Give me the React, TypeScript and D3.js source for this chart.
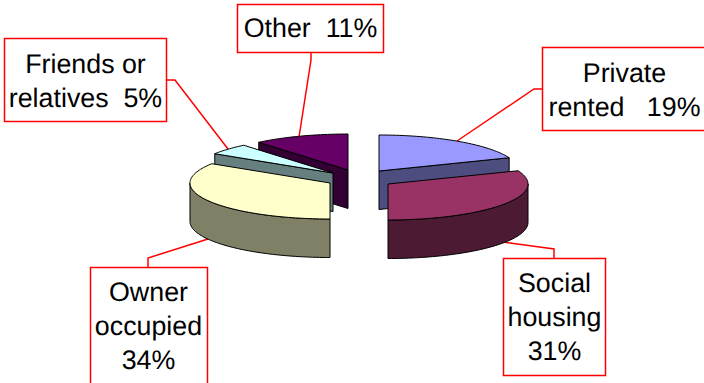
import React from "react";
import * as d3 from "d3";

// Housing tenure shares, clockwise from twelve o'clock.
const tenures = ["Private rented", "Social housing", "Owner occupied", "Friends or relatives", "Other"];
const shares = [19, 31, 34, 5, 11];

// Printed text of each callout, one entry per line.
const calloutLines = [
  ["Private", "rented   19%"],
  ["Social", "housing", "31%"],
  ["Owner", "occupied", "34%"],
  ["Friends or", "relatives  5%"],
  ["Other  11%"],
];

// Face colours per slice.
const topColors = ["#9999FF", "#993366", "#FFFFCC", "#CCFFFF", "#660066"];
const sideColors = ["#4D4D80", "#4D1A33", "#808066", "#668080", "#330033"];

// Pie projection: flattened ellipse plus extrusion depth.
const RX = 140;
const RY = 36;
const DEPTH = 38.5;

// Exploded slice centres on the page.
const centers: [number, number][] = [[379, 171], [388, 184], [330, 183], [333, 173], [348, 170]];

// Callout boxes [x, y, w, h], first baseline, text centre, leader path.
const boxes = [
  { r: [542.5, 47.5, 175, 83], base: 82, cx: 624.5, lead: [[542, 89], [534, 89], [457, 141]] },
  { r: [503.5, 258.5, 102, 117], base: 292, cx: 554.5, lead: [[554, 258], [554, 249], [503, 242]] },
  { r: [90.5, 267.5, 117, 130], base: 301, cx: 148.5, lead: [[148, 267], [148, 258], [208, 239]] },
  { r: [4.5, 38.5, 162, 83], base: 73, cx: 85.5, lead: [[166, 80], [175, 80], [228, 149]] },
  { r: [237.5, 4.5, 146, 48], base: 37, cx: 310.5, lead: [[311, 52], [311, 60], [299, 137]] },
];
const LINE_HEIGHT = 34;

// Paint order: rear slices first so the front ones overlap them.
const paintOrder = [4, 3, 0, 2, 1];

const arcs = d3.pie<number>().sort(null)(shares);

const line = d3.line();

function rimPoint(i: number, angle: number, dz = 0): [number, number] {
  const [cx, cy] = centers[i];
  return [cx + RX * Math.sin(angle), cy - RY * Math.cos(angle) + dz];
}

function rimAngles(start: number, end: number): number[] {
  const steps = Math.max(2, Math.ceil((end - start) * 40));
  return d3.range(steps + 1).map((k) => start + ((end - start) * k) / steps);
}

function topPath(i: number): string {
  const a = arcs[i];
  const pts = rimAngles(a.startAngle, a.endAngle).map((t) => rimPoint(i, t));
  return line([centers[i], ...pts, centers[i]])! + "Z";
}

// Outer wall, limited to the part of the rim that faces the viewer.
function wallPath(i: number): string | null {
  const a = arcs[i];
  const s = Math.max(a.startAngle, Math.PI / 2);
  const e = Math.min(a.endAngle, (3 * Math.PI) / 2);
  if (e <= s) return null;
  const upper = rimAngles(s, e).map((t) => rimPoint(i, t));
  const lower = rimAngles(s, e).reverse().map((t) => rimPoint(i, t, DEPTH));
  return line([...upper, ...lower])! + "Z";
}

// Flat cut face along one radius, extruded downward.
function cutPath(i: number, angle: number): string {
  const [cx, cy] = centers[i];
  const [x, y] = rimPoint(i, angle);
  return line([[cx, cy], [x, y], [x, y + DEPTH], [cx, cy + DEPTH]])! + "Z";
}

export default function App() {
  return (
    <svg
      width={704}
      height={383}
      viewBox="0 0 704 383"
      style={{ position: "absolute", left: 0, top: 0, background: "#fff" }}
      fontFamily="'Liberation Sans', Arial, sans-serif"
      textRendering="geometricPrecision"
    >
      {boxes.map((b, i) => (
        <g key={tenures[i]}>
          <path d={line(b.lead as [number, number][])!} fill="none" stroke="#FF0000" strokeWidth={1.5} />
          <rect x={b.r[0]} y={b.r[1]} width={b.r[2]} height={b.r[3]} fill="#fff" stroke="#FF0000" strokeWidth={1.5} />
          <text fontSize={26.8} textAnchor="middle" fill="#000" style={{ whiteSpace: "pre" }}>
            {calloutLines[i].map((t, k) => (
              <tspan key={k} x={b.cx} y={b.base + k * LINE_HEIGHT}>{t}</tspan>
            ))}
          </text>
        </g>
      ))}
      {paintOrder.map((i) => {
        const a = arcs[i];
        const wall = wallPath(i);
        const stroke = { stroke: "#000", strokeWidth: 1, strokeLinejoin: "round" as const };
        // Cut faces are visible when the radius points away from the viewer's side.
        const cuts: number[] = [];
        if (a.startAngle > Math.PI) cuts.push(a.startAngle);
        if (a.endAngle < Math.PI) cuts.push(a.endAngle);
        return (
          <g key={tenures[i]}>
            {cuts.map((c) => (
              <path key={c} d={cutPath(i, c)} fill={sideColors[i]} {...stroke} />
            ))}
            {wall && <path d={wall} fill={sideColors[i]} {...stroke} />}
            <path d={topPath(i)} fill={topColors[i]} {...stroke} />
          </g>
        );
      })}
    </svg>
  );
}
